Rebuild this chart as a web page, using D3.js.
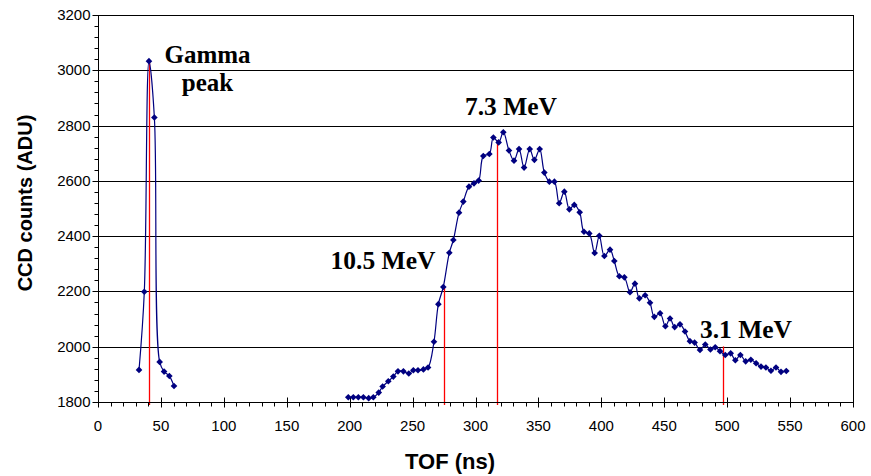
<!DOCTYPE html>
<html><head><meta charset="utf-8">
<script src="https://cdn.jsdelivr.net/npm/d3@7"></script>
<style>body{margin:0;background:#fff}svg{display:block}</style>
</head><body><svg id="c" width="871" height="476"></svg>
<script>
// Gamma peak series
const gammaTOF = [32.6, 36.8, 40.5, 44.8, 49.0, 52.5, 56.7, 60.4];
const gammaCounts = [1916, 2199, 3033, 2829, 1945, 1910, 1894, 1858];
// Neutron series
const neutronTOF = [198.9, 202.9, 206.9, 210.9, 215.1, 218.8, 223.1, 226.2, 230.7, 234.7, 238.4, 242.7, 247.0, 250.6, 254.3, 258.6, 262.3, 267.0, 270.5, 274.4, 279.2, 282.4, 286.9, 290.3, 294.8, 298.8, 302.5, 306.2, 311.0, 314.2, 318.4, 322.1, 326.6, 330.6, 334.6, 338.6, 343.1, 346.8, 351.0, 354.7, 358.7, 362.7, 366.5, 370.6, 374.6, 378.5, 382.8, 386.2, 390.4, 394.7, 398.4, 402.4, 406.9, 410.3, 414.3, 418.3, 422.8, 426.7, 430.2, 434.8, 438.7, 442.1, 446.7, 450.9, 454.6, 458.3, 462.5, 466.5, 470.4, 474.1, 478.4, 482.6, 486.7, 490.5, 494.3, 498.5, 502.8, 506.5, 510.5, 514.7, 518.8, 523.0, 526.9, 530.8, 534.8, 538.8, 542.8, 547.0];
const neutronCounts = [1817, 1817, 1817, 1817, 1814, 1817, 1834, 1856, 1875, 1892, 1911, 1911, 1903, 1915, 1915, 1918, 1925, 2018, 2154, 2216, 2340, 2386, 2485, 2525, 2579, 2591, 2601, 2690, 2697, 2757, 2739, 2776, 2710, 2673, 2715, 2648, 2715, 2676, 2715, 2630, 2597, 2597, 2519, 2561, 2497, 2513, 2486, 2416, 2410, 2339, 2401, 2328, 2351, 2310, 2255, 2251, 2197, 2228, 2175, 2186, 2159, 2108, 2121, 2074, 2102, 2071, 2081, 2055, 2020, 2015, 1988, 2008, 1990, 1998, 1984, 1970, 1976, 1951, 1970, 1947, 1953, 1940, 1928, 1925, 1913, 1925, 1909, 1912];
// Energy markers (red lines + labels)
const markerLabels = ["", "10.5 MeV", "7.3 MeV", "3.1 MeV"];
const markerTOF = [40.8, 275, 317, 496.3];
const markerTop = [3033, 2216, 2748, 2001];
// Axis ticks
const xTicks = [0, 50, 100, 150, 200, 250, 300, 350, 400, 450, 500, 550, 600];
const yTicks = [1800, 2000, 2200, 2400, 2600, 2800, 3000, 3200];
const xTitle = "TOF (ns)";
const yTitle = "CCD counts (ADU)";
const gammaLabel = ["Gamma", "peak"];

const svg = d3.select("#c");
const m = {l: 98, r: 18, t: 15, b: 74};
const W = 871, H = 476;
const x = d3.scaleLinear().domain([0, 600]).range([m.l, W - m.r]);
const y = d3.scaleLinear().domain([1800, 3200]).range([H - m.b, m.t]);

// gridlines
svg.append("g").selectAll("line").data(yTicks.slice(1)).join("line")
  .attr("x1", x(0)).attr("x2", x(600))
  .attr("y1", d => Math.round(y(d)) + 0.5).attr("y2", d => Math.round(y(d)) + 0.5)
  .attr("stroke", "#000").attr("stroke-width", 1);
// right border
svg.append("line").attr("x1", Math.round(x(600)) + 0.5).attr("x2", Math.round(x(600)) + 0.5)
  .attr("y1", y(3200)).attr("y2", y(1800)).attr("stroke", "#000");

// red marker lines
svg.append("g").selectAll("line").data(markerTOF).join("line")
  .attr("x1", d => Math.round(x(d)) + 0.5).attr("x2", d => Math.round(x(d)) + 0.5)
  .attr("y1", (d, i) => y(markerTop[i])).attr("y2", y(1800) + 3)
  .attr("stroke", "#ff0000").attr("stroke-width", 1.3);

// x axis
const xMinor = d3.range(0, 601, 10);
const gx = svg.append("g").attr("transform", `translate(0,${Math.round(y(1800)) + 0.5})`);
gx.append("line").attr("x1", x(0)).attr("x2", x(600)).attr("stroke", "#000");
gx.selectAll("line.mn").data(xMinor).join("line").attr("class", "mn")
  .attr("x1", d => Math.round(x(d)) + 0.5).attr("x2", d => Math.round(x(d)) + 0.5)
  .attr("y1", 0).attr("y2", 4).attr("stroke", "#000");
gx.selectAll("line.mj").data(xTicks).join("line").attr("class", "mj")
  .attr("x1", d => Math.round(x(d)) + 0.5).attr("x2", d => Math.round(x(d)) + 0.5)
  .attr("y1", -5).attr("y2", 5).attr("stroke", "#000");
gx.selectAll("text").data(xTicks).join("text")
  .attr("x", d => x(d)).attr("y", 28).attr("text-anchor", "middle")
  .attr("font-family", "Liberation Sans, Arial, sans-serif").attr("font-size", 15)
  .text(d => d);

// y axis
const yMinor = d3.range(1800, 3201, 40);
const gy = svg.append("g").attr("transform", `translate(${Math.round(x(0)) + 0.5},0)`);
gy.append("line").attr("y1", y(1800)).attr("y2", y(3200)).attr("stroke", "#000");
gy.selectAll("line.mn").data(yMinor).join("line").attr("class", "mn")
  .attr("y1", d => Math.round(y(d)) + 0.5).attr("y2", d => Math.round(y(d)) + 0.5)
  .attr("x1", -4).attr("x2", 0).attr("stroke", "#000");
gy.selectAll("line.mj").data(yTicks).join("line").attr("class", "mj")
  .attr("y1", d => Math.round(y(d)) + 0.5).attr("y2", d => Math.round(y(d)) + 0.5)
  .attr("x1", -6).attr("x2", 0).attr("stroke", "#000");
gy.selectAll("text").data(yTicks).join("text")
  .attr("x", -8).attr("y", d => y(d) + 5).attr("text-anchor", "end")
  .attr("font-family", "Liberation Sans, Arial, sans-serif").attr("font-size", 15)
  .text(d => d);

// titles
svg.append("text").attr("x", 450).attr("y", 469).attr("text-anchor", "middle")
  .attr("font-family", "Liberation Sans, Arial, sans-serif").attr("font-weight", "bold").attr("font-size", 22)
  .text(xTitle);
svg.append("text").attr("transform", `translate(32,203) rotate(-90)`).attr("text-anchor", "middle")
  .attr("font-family", "Liberation Sans, Arial, sans-serif").attr("font-weight", "bold").attr("font-size", 20)
  .text(yTitle);

// series
const line = d3.line().x(d => x(d[0])).y(d => y(d[1])).curve(d3.curveCatmullRom.alpha(0.5));
const diamond = {draw(ctx, size) { const r = Math.sqrt(size / 2); ctx.moveTo(0, -r); ctx.lineTo(r, 0); ctx.lineTo(0, r); ctx.lineTo(-r, 0); ctx.closePath(); }};
const series = [
  d3.zip(gammaTOF, gammaCounts),
  d3.zip(neutronTOF, neutronCounts)
];
series.forEach(s => {
  svg.append("path").datum(s).attr("d", line).attr("fill", "none")
    .attr("stroke", "#000080").attr("stroke-width", 1.2);
  svg.append("g").selectAll("path").data(s).join("path")
    .attr("transform", d => `translate(${x(d[0])},${y(d[1])})`)
    .attr("d", d3.symbol(diamond, 22))
    .attr("fill", "#000080");
});

// labels
const lf = "Liberation Serif, Times New Roman, serif";
svg.append("text").attr("x", 207.5).attr("y", 63).attr("text-anchor", "middle")
  .attr("font-family", lf).attr("font-weight", "bold").attr("font-size", 25).text(gammaLabel[0]);
svg.append("text").attr("x", 207.5).attr("y", 91).attr("text-anchor", "middle")
  .attr("font-family", lf).attr("font-weight", "bold").attr("font-size", 25).text(gammaLabel[1]);
const labelPos = [null, [383, 268.5], [511, 114.5], [746, 337.5]];
markerLabels.forEach((t, i) => {
  if (!t) return;
  svg.append("text").attr("x", labelPos[i][0]).attr("y", labelPos[i][1]).attr("text-anchor", "middle")
    .attr("font-family", lf).attr("font-weight", "bold").attr("font-size", 25.5).text(t);
});
</script></body></html>
